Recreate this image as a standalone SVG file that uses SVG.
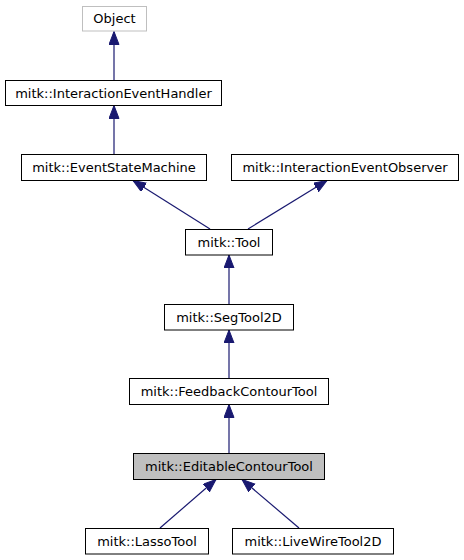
<svg xmlns="http://www.w3.org/2000/svg" width="464" height="560" viewBox="0 0 464 560">
<defs>
<style>
.n rect{fill:#ffffff;stroke:#000000;stroke-width:1}
.n text{font-family:"DejaVu Sans","Noto Sans",sans-serif;font-size:13px;fill:#000000;text-anchor:middle}
#object rect{stroke:#bfbfbf}
#editable rect{fill:#bfbfbf}
#edges line{stroke:#191970;stroke-width:1.2;fill:none}
</style>
<marker id="ah" markerUnits="userSpaceOnUse" markerWidth="14" markerHeight="11" refX="13" refY="5" orient="auto">
<path d="M0,0 L13,5 L0,10 Z" fill="#191970" stroke="#191970" stroke-width="1"/>
</marker>
</defs>
<rect x="0" y="0" width="464" height="560" fill="#ffffff"/>
<g id="edges">
<line x1="114" y1="80" x2="114" y2="31.5" marker-end="url(#ah)"/>
<line x1="114" y1="155" x2="114" y2="105.5" marker-end="url(#ah)"/>
<line x1="210" y1="229" x2="133" y2="180.5" marker-end="url(#ah)"/>
<line x1="248" y1="229" x2="327" y2="180.5" marker-end="url(#ah)"/>
<line x1="229" y1="304" x2="229" y2="255" marker-end="url(#ah)"/>
<line x1="229" y1="378" x2="229" y2="330" marker-end="url(#ah)"/>
<line x1="229" y1="453" x2="229" y2="404.5" marker-end="url(#ah)"/>
<line x1="160" y1="528" x2="216" y2="479.5" marker-end="url(#ah)"/>
<line x1="299" y1="528" x2="242" y2="479.5" marker-end="url(#ah)"/>
</g>
<g id="object" class="n"><rect x="82.5" y="6.5" width="64" height="24.5"/><text x="114.5" y="23">Object</text></g>
<g id="ieh" class="n"><rect x="5.5" y="80.5" width="216" height="25"/><text x="113.5" y="97.5">mitk::InteractionEventHandler</text></g>
<g id="esm" class="n"><rect x="21.5" y="154.5" width="185" height="26"/><text x="114" y="172">mitk::EventStateMachine</text></g>
<g id="ieo" class="n"><rect x="231.5" y="154.5" width="227" height="26"/><text x="345" y="172">mitk::InteractionEventObserver</text></g>
<g id="tool" class="n"><rect x="185.5" y="229.5" width="87" height="25.5"/><text x="229" y="247">mitk::Tool</text></g>
<g id="segtool" class="n"><rect x="164.5" y="304.5" width="129" height="25.5"/><text x="229" y="322">mitk::SegTool2D</text></g>
<g id="feedback" class="n"><rect x="129.5" y="378.5" width="199" height="26"/><text x="229" y="396">mitk::FeedbackContourTool</text></g>
<g id="editable" class="n"><rect x="133.5" y="453.5" width="191" height="26"/><text x="229" y="471">mitk::EditableContourTool</text></g>
<g id="lasso" class="n"><rect x="85.5" y="528.5" width="123" height="25.5"/><text x="147" y="546">mitk::LassoTool</text></g>
<g id="livewire" class="n"><rect x="232.5" y="528.5" width="161" height="25.5"/><text x="313" y="546">mitk::LiveWireTool2D</text></g>
</svg>
